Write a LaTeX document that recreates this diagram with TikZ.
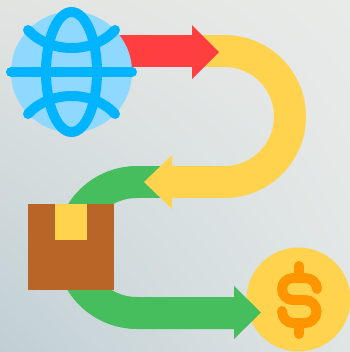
\documentclass[tikz,border=0pt]{standalone}
\usepackage{tikz}
\usetikzlibrary{shadings}
\definecolor{WallTL}{HTML}{E2E4E2}
\definecolor{WallTR}{HTML}{E9EBE9}
\definecolor{WallBL}{HTML}{C0CFD4}
\definecolor{WallBR}{HTML}{E0E5E5}
\definecolor{Sky}{HTML}{8FD8FF}
\definecolor{Ocean}{HTML}{00B4FF}
\definecolor{Red}{HTML}{FF3F3F}
\definecolor{Yellow}{HTML}{FFD34D}
\definecolor{Green}{HTML}{46BE5E}
\definecolor{Brown}{HTML}{B96527}
\definecolor{Orange}{HTML}{FF9500}
\tikzset{
  band/.style={line width=0.64cm},
  wire/.style={line width=0.2cm,line cap=round,color=Ocean},
  sign/.style={line width=0.2cm,line cap=round,color=Orange}
}
\begin{document}
\begin{tikzpicture}[x=0.02cm,y=-0.02cm]
        \useasboundingbox (0,0) rectangle (350,352);
        \clip (0,0) rectangle (350,352);
        \shade[upper left=WallTL,upper right=WallTR,lower left=WallBL,lower right=WallBR]
          (0,0) rectangle (350,352);
        % coin
        \fill[Yellow] (298.5,299.5) circle (52);
        \foreach \ya/\yb in {266/278,323/334}
          \draw[sign] (299,\ya)--(299,\yb);
        \draw[sign] (317,289) arc (0:-90:12 and 11) -- (293,278)
          arc (-90:-270:11) -- (305,300) arc (-90:90:11.5) -- (293,323)
          arc (90:180:11 and 12);
        % green road
        \draw[band,Green] (172,182)--(137,182) arc (-90:-270:65.5) -- (240,313);
        \fill[Green] (234,286)--(261,312.5)--(234,339)--cycle;
        % yellow road
        \draw[band,Yellow] (195,51)--(224.5,51) arc (-90:90:65.5) -- (165,182);
        \fill[Yellow] (172,155)--(144,182)--(172,209)--cycle;
        % red road
        \draw[band,Red] (110,51)--(195,51);
        \fill[Red] (192,25)--(219,52)--(192,79)--cycle;
        % box
        \fill[Brown] (28,204) rectangle (114,290);
        \fill[Yellow] (55,204) rectangle (87,240);
        % globe
        \fill[Sky] (71.5,72) circle (60.5);
        \draw[wire] (71.5,72) ellipse (25.5 and 60);
        \draw[wire] (11,72)--(132,72);
        \foreach \ya/\yb in {30/54,114/90}
          \draw[wire] (28,\ya) .. controls (50,\yb) and (93,\yb) .. (115,\ya);
\end{tikzpicture}
\end{document}
